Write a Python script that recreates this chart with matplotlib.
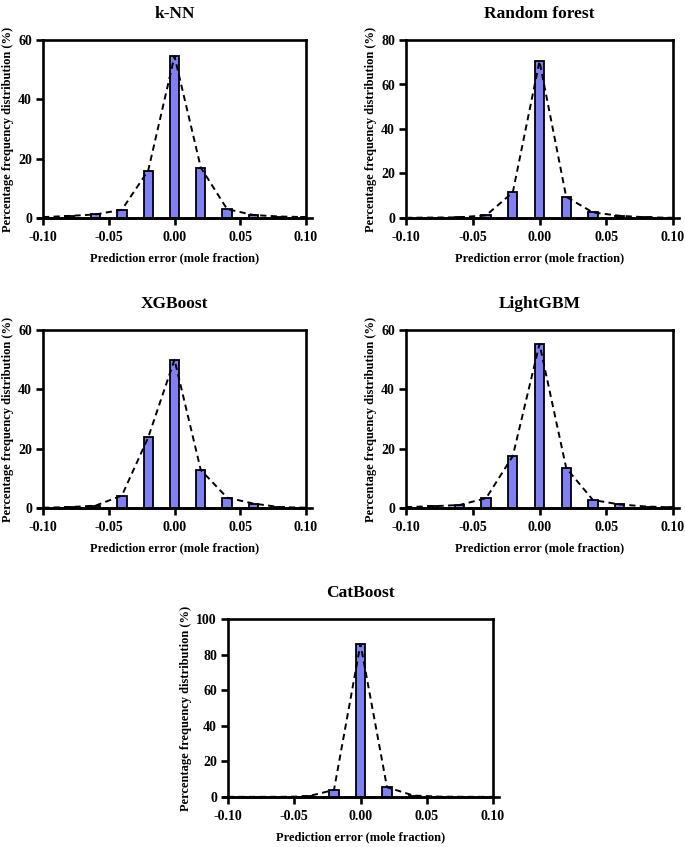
import matplotlib
matplotlib.use("Agg")
import matplotlib.pyplot as plt
from matplotlib.lines import Line2D

plt.rcParams['font.family'] = ['Liberation Serif', 'DejaVu Serif']
plt.rcParams['font.weight'] = 'bold'

bins = [-0.10, -0.08, -0.06, -0.04, -0.02, 0.00, 0.02, 0.04, 0.06, 0.08, 0.10]

knn = [0.3, 0.7, 1.2, 2.8, 16.0, 54.5, 17.0, 3.0, 1.0, 0.5, 0.3]
rf = [0.1, 0.2, 0.3, 1.2, 11.5, 70.5, 9.5, 2.5, 1.0, 0.3, 0.1]
xgb = [0.1, 0.3, 0.8, 4.2, 23.8, 50.0, 12.8, 3.5, 1.5, 0.3, 0.1]
lgbm = [0.3, 0.6, 1.0, 3.3, 17.5, 55.3, 13.5, 2.7, 1.2, 0.5, 0.2]
cat = [0.1, 0.1, 0.1, 0.3, 4.0, 86.0, 5.5, 0.8, 0.2, 0.1, 0.1]

titles = ["k-NN", "Random forest", "XGBoost", "LightGBM", "CatBoost"]
series = [knn, rf, xgb, lgbm, cat]
ymax = [60, 80, 60, 60, 100]
ystep = [20, 20, 20, 20, 20]
xticks = [-0.10, -0.05, 0.00, 0.05, 0.10]
xlabel = "Prediction error (mole fraction)"
ylabel = "Percentage frequency distribution (%)"

W, H = 685, 847
fig = plt.figure(figsize=(W / 100, H / 100), dpi=100)

# axes boxes in pixels: left, right, top, bottom
boxes = [
    (43, 306, 40, 218),
    (406, 673, 40, 218),
    (43, 306, 330, 508),
    (406, 673, 330, 508),
    (228, 493, 619, 797),
]

bar_color = "#8080F2"
for (l, r, t, b), title, vals, ym, ys in zip(boxes, titles, series, ymax, ystep):
    ax = fig.add_axes([l / W, 1 - b / H, (r - l) / W, (b - t) / H])
    ax.bar(bins, vals, width=0.007, color=bar_color, edgecolor="black",
           linewidth=1.3, zorder=2)
    ax.plot(bins, vals, linestyle=(0, (3.2, 2.2)), color="black", linewidth=1.4,
            zorder=3)
    ax.set_xlim(-0.10, 0.10)
    ax.set_ylim(0, ym)
    ax.set_xticks(xticks)
    ax.set_xticklabels([f"{v:.2f}" for v in xticks])
    ax.set_yticks(list(range(0, ym + 1, ys)))
    for s in ax.spines.values():
        s.set_linewidth(1.9)
    ax.tick_params(axis="x", direction="out", length=5, width=1.9,
                   labelsize=10, pad=4.5)
    ax.tick_params(axis="y", direction="out", length=5, width=1.9,
                   labelsize=10, pad=3)
    for lab in ax.get_xticklabels() + ax.get_yticklabels():
        lab.set_fontweight("bold")
    # extended x axis baseline
    ax.add_line(Line2D([-0.104, 0.1045], [0, 0], color="black", linewidth=1.9,
                       clip_on=False, transform=ax.transData, zorder=4))
    ax.set_title(title, fontsize=12.5, fontweight="bold", pad=16)
    ax.set_xlabel(xlabel, fontsize=9, fontweight="bold", labelpad=6)
    ax.set_ylabel(ylabel, fontsize=9, fontweight="bold", labelpad=3)

fig.savefig("out.png", dpi=100)
